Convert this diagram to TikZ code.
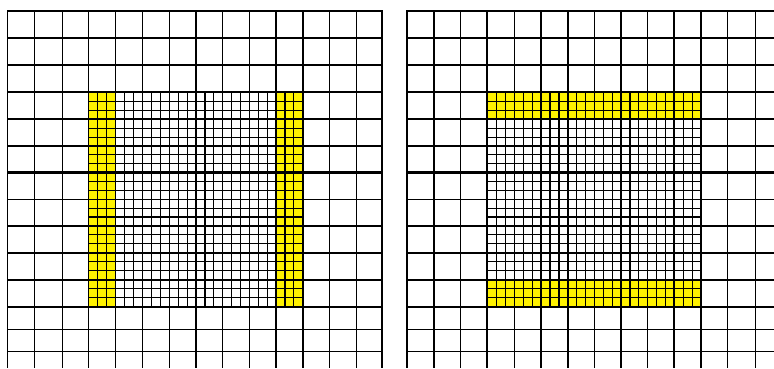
\documentclass[tikz,border=0pt]{standalone}
\usepackage{tikz}
\begin{document}
\begin{tikzpicture}[x=1pt, y=-1pt,
                gridline/.style={line width=1.3pt, black},
                boldline/.style={line width=2.2pt, black},
                fineline/.style={line width=1.2pt, black}]
\useasboundingbox (0,0) rectangle (774,368);

% yellow bands
\fill[yellow] (88.3,92) rectangle (115.7,306.7);
\fill[yellow] (276,92) rectangle (302.7,306.7);
\fill[yellow] (487.2,92) rectangle (701,119.3);
\fill[yellow] (487.2,279.7) rectangle (701,306.7);

% refined blocks: vertical fine lines
\foreach \a/\b in {88.3/115.7, 115.7/142.7, 142.7/169.7, 169.7/196, 196/222.7, 222.7/249.3, 249.3/276, 276/302.7,
                   487.2/514.3, 514.3/541, 541/568, 568/594.5, 594.5/621, 621/647.7, 647.7/674.3, 674.3/701} {
  \draw[fineline] ({\a+(\b-\a)/3},92) -- ({\a+(\b-\a)/3},306.7);
  \draw[fineline] ({\a+2*(\b-\a)/3},92) -- ({\a+2*(\b-\a)/3},306.7);
}
% refined blocks: horizontal fine lines
\foreach \a/\b in {92/119.3, 119.3/146, 146/172.5, 172.5/199.3, 199.3/225.7, 225.7/252.7, 252.7/279.7, 279.7/306.7} {
  \draw[fineline] (88.3,{\a+(\b-\a)/3}) -- (302.7,{\a+(\b-\a)/3});
  \draw[fineline] (88.3,{\a+2*(\b-\a)/3}) -- (302.7,{\a+2*(\b-\a)/3});
  \draw[fineline] (487.2,{\a+(\b-\a)/3}) -- (701,{\a+(\b-\a)/3});
  \draw[fineline] (487.2,{\a+2*(\b-\a)/3}) -- (701,{\a+2*(\b-\a)/3});
}

% coarse grid, left
\foreach \x in {7.7, 34.7, 62.3, 88.3, 115.7, 142.7, 169.7, 222.7, 249.3, 329.3, 356.7}
  \draw[gridline] (\x,11) -- (\x,368);
\foreach \x in {196, 276, 302.7, 382}
  \draw[boldline] (\x,11) -- (\x,368);

% coarse grid, right
\foreach \x in {460.5, 514.3, 568, 594.5, 647.7, 701, 727.7, 755.7}
  \draw[gridline] (\x,11) -- (\x,368);
\foreach \x in {407, 434, 487.2, 541, 621, 674.3}
  \draw[boldline] (\x,11) -- (\x,368);

% coarse grid, rows
\foreach \y in {11, 65, 146, 199.3, 329.3, 351.7}
  \draw[gridline] (7.2,\y) -- (382.9,\y) (406.1,\y) -- (774,\y);
\foreach \y in {38, 92, 119.3, 172.5, 225.7, 252.7, 279.7, 306.7}
  \draw[boldline] (7.2,\y) -- (382.9,\y) (406.1,\y) -- (774,\y);
\end{tikzpicture}
\end{document}
